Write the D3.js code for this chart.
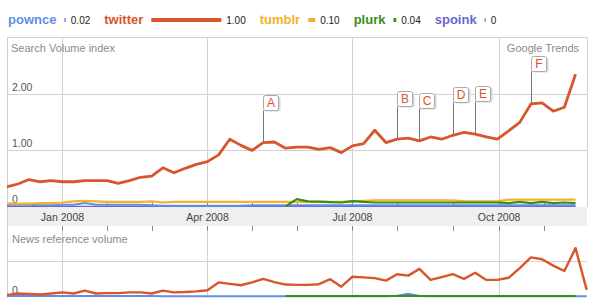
<!DOCTYPE html>
<html>
<head>
<meta charset="utf-8">
<script src="https://cdn.jsdelivr.net/npm/d3@7"></script>
<style>
  body { margin: 0; background: #fff; }
  svg text { font-family: Arial, "Liberation Sans", sans-serif; }
</style>
</head>
<body>
<svg id="chart" width="594" height="306"></svg>
<script>
// weekly data points (the news series has one extra week at the end)
const weeks = [
  "2007-11-27", "2007-12-04", "2007-12-11", "2007-12-18", "2007-12-25",
  "2008-01-01", "2008-01-08", "2008-01-15", "2008-01-22", "2008-01-29",
  "2008-02-05", "2008-02-12", "2008-02-19", "2008-02-26",
  "2008-03-04", "2008-03-11", "2008-03-18", "2008-03-25",
  "2008-04-01", "2008-04-08", "2008-04-15", "2008-04-22", "2008-04-29",
  "2008-05-06", "2008-05-13", "2008-05-20", "2008-05-27",
  "2008-06-03", "2008-06-10", "2008-06-17", "2008-06-24",
  "2008-07-01", "2008-07-08", "2008-07-15", "2008-07-22", "2008-07-29",
  "2008-08-05", "2008-08-12", "2008-08-19", "2008-08-26",
  "2008-09-02", "2008-09-09", "2008-09-16", "2008-09-23", "2008-09-30",
  "2008-10-07", "2008-10-14", "2008-10-21", "2008-10-28",
  "2008-11-04", "2008-11-11", "2008-11-18", "2008-11-25"
];

const seriesNames = ["pownce", "twitter", "tumblr", "plurk", "spoink"];
const seriesAverages = ["0.02", "1.00", "0.10", "0.04", "0"];
const swatchValues = [0.02, 1.0, 0.1, 0.04, 0];

// search volume index (52 weeks)
const twitterSearch = [
  0.35, 0.40, 0.48, 0.44, 0.46, 0.44, 0.44, 0.46, 0.46, 0.46,
  0.41, 0.46, 0.52, 0.54, 0.69, 0.60, 0.68, 0.75, 0.80, 0.92,
  1.20, 1.09, 1.00, 1.14, 1.15, 1.04, 1.06, 1.06, 1.02, 1.05,
  0.96, 1.08, 1.12, 1.36, 1.14, 1.20, 1.22, 1.17, 1.24, 1.20,
  1.27, 1.32, 1.29, 1.24, 1.20, 1.35, 1.50, 1.83, 1.85, 1.70,
  1.77, 2.36
];
const tumblrSearch = [
  0.05, 0.05, 0.05, 0.06, 0.06, 0.07, 0.09, 0.10, 0.09, 0.08,
  0.08, 0.08, 0.08, 0.09, 0.07, 0.08, 0.08, 0.08, 0.08, 0.08,
  0.08, 0.08, 0.08, 0.08, 0.08, 0.08, 0.08, 0.08, 0.08, 0.08,
  0.08, 0.09, 0.10, 0.11, 0.11, 0.11, 0.11, 0.11, 0.11, 0.11,
  0.11, 0.09, 0.09, 0.09, 0.09, 0.12, 0.12, 0.12, 0.12, 0.12,
  0.12, 0.12
];
const pownceSearch = [
  0.03, 0.03, 0.03, 0.02, 0.02, 0.03, 0.03, 0.06, 0.03, 0.03,
  0.03, 0.03, 0.03, 0.02, 0.01, 0.01, 0.01, 0.01, 0.01, 0.01,
  0.01, 0.01, 0.02, 0.02, 0.02, 0.02, 0.02, 0.02, 0.02, 0.02,
  0.02, 0.02, 0.02, 0.02, 0.02, 0.02, 0.02, 0.02, 0.02, 0.02,
  0.02, 0.02, 0.02, 0.02, 0.02, 0.02, 0.02, 0.02, 0.02, 0.02,
  0.02, 0.02
];
const plurkSearch = [
  null, null, null, null, null, null, null, null, null, null,
  null, null, null, null, null, null, null, null, null, null,
  null, null, null, null, null, 0.00, 0.13, 0.09, 0.085, 0.075,
  0.07, 0.095, 0.08, 0.07, 0.07, 0.07, 0.07, 0.07, 0.07, 0.07,
  0.07, 0.07, 0.07, 0.07, 0.07, 0.06, 0.08, 0.06, 0.08, 0.06,
  0.07, 0.06
];
const spoinkSearch = [
  0, 0, 0, 0, 0, 0, 0, 0, 0, 0, 0, 0, 0, 0, 0, 0, 0, 0, 0, 0,
  0, 0, 0, 0, 0, 0, 0, 0, 0, 0, 0, 0, 0, 0, 0, 0, 0, 0, 0, 0,
  0, 0, 0, 0, 0, 0, 0, 0, 0, 0, 0, 0
];

// news reference volume (53 weeks)
const twitterNews = [
  0.05, 0.09, 0.08, 0.06, 0.09, 0.12, 0.09, 0.17, 0.09, 0.10,
  0.10, 0.12, 0.12, 0.09, 0.17, 0.12, 0.13, 0.15, 0.18, 0.40,
  0.36, 0.32, 0.40, 0.50, 0.41, 0.34, 0.33, 0.33, 0.35, 0.49,
  0.28, 0.56, 0.54, 0.52, 0.45, 0.63, 0.59, 0.78, 0.47, 0.55,
  0.63, 0.50, 0.67, 0.47, 0.47, 0.53, 0.80, 1.10, 1.05, 0.87,
  0.72, 1.36, 0.19
];
const pownceNews = [
  0.02, 0.02, 0.02, 0.02, 0.02, 0.02, 0.02, 0.02, 0.02, 0.02,
  0.02, 0.02, 0.02, 0.02, 0.01, 0.01, 0.01, 0.01, 0.01, 0.01,
  0.01, 0.01, 0.01, 0.01, 0.01, 0.01, 0.01, 0.01, 0.01, 0.01,
  0.01, 0.01, 0.01, 0.01, 0.01, 0.03, 0.08, 0.02, 0.01, 0.01,
  0.01, 0.01, 0.01, 0.01, 0.01, 0.01, 0.01, 0.01, 0.01, 0.01,
  0.01, 0.01, 0.01
];
const plurkNews = [
  null, null, null, null, null, null, null, null, null, null,
  null, null, null, null, null, null, null, null, null, null,
  null, null, null, null, null, 0.02, 0.02, 0.02, 0.02, 0.02,
  0.02, 0.02, 0.02, 0.02, 0.02, 0.02, 0.02, 0.02, 0.02, 0.02,
  0.02, 0.02, 0.02, 0.02, 0.02, 0.02, 0.02, 0.02, 0.02, 0.02,
  0.02, 0.02, null
];

const annotationLetters = ["A", "B", "C", "D", "E", "F"];
const annotationWeeks = ["2008-05-06", "2008-07-29", "2008-08-12", "2008-09-02", "2008-09-16", "2008-10-21"];

const searchTicks = [0, 1, 2];
const searchTickLabels = ["0", "1.00", "2.00"];
const monthLabels = ["Jan 2008", "Apr 2008", "Jul 2008", "Oct 2008"];
const monthDates = ["2008-01-01", "2008-04-01", "2008-07-01", "2008-10-01"];
const minorTickDates = ["2008-01-29", "2008-02-26", "2008-04-29", "2008-05-27", "2008-07-29", "2008-09-02", "2008-10-29"];

const colors = {
  pownce: "#5f8fe6",
  twitter: "#d9552b",
  tumblr: "#f4b12a",
  plurk: "#3a8e17",
  spoink: "#6a66cc"
};

const parse = d3.timeParse("%Y-%m-%d");
const dates = weeks.map(parse);

const svg = d3.select("#chart");
const left = 7, right = 587;
const topY = 37, topBottom = 207, bandBottom = 226, newsBottom = 298;

const x = d3.scaleTime()
  .domain([parse("2007-11-27"), parse("2008-11-25")])
  .range([6.7, 586.7]);
const yTop = d3.scaleLinear().domain([0, 2]).range([206.4, 94.4]);
const yNews = d3.scaleLinear().domain([0, 1]).range([296.7, 261]);

const gridColor = "#d2d2d2";

// ---------- legend ----------
const legend = svg.append("g");
let lx = 8;
seriesNames.forEach((name, i) => {
  const t = legend.append("text")
    .attr("x", lx).attr("y", 24)
    .attr("font-size", 13).attr("font-weight", "bold")
    .attr("fill", colors[name])
    .text(name);
  lx += t.node().getComputedTextLength() + 8;
  const w = Math.max(1, swatchValues[i] * 70);
  legend.append("rect")
    .attr("x", lx).attr("y", 18)
    .attr("width", w).attr("height", 4)
    .attr("fill", colors[name]);
  lx += w + 5;
  const v = legend.append("text")
    .attr("x", lx).attr("y", 24)
    .attr("font-size", 10).attr("fill", "#222")
    .text(seriesAverages[i]);
  lx += v.node().getComputedTextLength() + 14;
});

// ---------- axis band ----------
svg.append("rect")
  .attr("x", left).attr("y", topBottom)
  .attr("width", right - left).attr("height", bandBottom - topBottom)
  .attr("fill", "#efefef");

// ---------- grid ----------
const grid = svg.append("g").attr("stroke", gridColor).attr("stroke-width", 1).attr("shape-rendering", "crispEdges");
grid.append("line").attr("x1", left).attr("x2", right).attr("y1", topY).attr("y2", topY);
grid.append("line").attr("x1", left).attr("x2", left).attr("y1", topY).attr("y2", newsBottom);
grid.append("line").attr("x1", right).attr("x2", right).attr("y1", topY).attr("y2", topBottom);
grid.selectAll(".hgrid")
  .data(searchTicks.filter((d) => d > 0))
  .join("line")
  .attr("x1", left).attr("x2", right)
  .attr("y1", (d) => Math.round(yTop(d)) + 0.5).attr("y2", (d) => Math.round(yTop(d)) + 0.5);
grid.append("line")
  .attr("x1", left).attr("x2", right)
  .attr("y1", Math.round(yNews(1)) + 0.5).attr("y2", Math.round(yNews(1)) + 0.5);
monthDates.forEach((d) => {
  const gx = Math.round(x(parse(d))) + 0.5;
  grid.append("line").attr("x1", gx).attr("x2", gx).attr("y1", topY).attr("y2", topBottom);
  grid.append("line").attr("x1", gx).attr("x2", gx).attr("y1", bandBottom).attr("y2", newsBottom);
});

// small ticks above and below the band
const ticks = svg.append("g").attr("stroke", "#8a8a8a").attr("shape-rendering", "crispEdges");
monthDates.concat(minorTickDates).forEach((d) => {
  const tx = Math.round(x(parse(d))) + 0.5;
  ticks.append("line").attr("x1", tx).attr("x2", tx).attr("y1", topBottom - 5).attr("y2", topBottom);
  ticks.append("line").attr("x1", tx).attr("x2", tx).attr("y1", bandBottom).attr("y2", bandBottom + 5);
});

// month labels
svg.append("g").selectAll("text")
  .data(monthLabels)
  .join("text")
  .attr("x", (d, i) => x(parse(monthDates[i])))
  .attr("y", 221)
  .attr("text-anchor", "middle")
  .attr("font-size", 10.5)
  .attr("fill", "#444")
  .text((d) => d);

// panel titles & y labels
svg.append("text").attr("x", 11).attr("y", 52).attr("font-size", 11).attr("fill", "#8a8a8a").text("Search Volume index");
svg.append("text").attr("x", 579).attr("y", 52).attr("text-anchor", "end").attr("font-size", 11).attr("fill", "#8a8a8a").text("Google Trends");
svg.append("text").attr("x", 12).attr("y", 243).attr("font-size", 11).attr("fill", "#8a8a8a").text("News reference volume");

svg.append("g").selectAll("text")
  .data(searchTicks)
  .join("text")
  .attr("x", 12)
  .attr("y", (d) => yTop(d) - 3)
  .attr("font-size", 10.5)
  .attr("fill", "#555")
  .text((d, i) => searchTickLabels[i]);
svg.append("text").attr("x", 12).attr("y", yNews(0) - 3).attr("font-size", 10.5).attr("fill", "#555").text("0");

// ---------- lines ----------
const defs = svg.append("defs");
defs.append("clipPath").attr("id", "clipTop")
  .append("rect").attr("x", left).attr("y", topY).attr("width", right - left).attr("height", topBottom - topY);
defs.append("clipPath").attr("id", "clipNews")
  .append("rect").attr("x", left).attr("y", bandBottom).attr("width", right - left + 1).attr("height", newsBottom - bandBottom + 2);

const lineTop = d3.line()
  .defined((d) => d.v != null)
  .x((d) => x(d.date))
  .y((d) => yTop(d.v));
const lineNews = d3.line()
  .defined((d) => d.v != null)
  .x((d) => x(d.date))
  .y((d) => yNews(d.v));

const toPoints = (values) => values.map((v, i) => ({ date: dates[i], v }));

// spoink first so the others sit on top of it
const topSeries = [
  { name: "spoink", values: spoinkSearch, width: 1.5 },
  { name: "pownce", values: pownceSearch, width: 2 },
  { name: "tumblr", values: tumblrSearch, width: 2.2 },
  { name: "plurk", values: plurkSearch, width: 2.2 },
  { name: "twitter", values: twitterSearch, width: 2.8 }
];
const newsSeries = [
  { name: "pownce", values: pownceNews, width: 2 },
  { name: "plurk", values: plurkNews, width: 2 },
  { name: "twitter", values: twitterNews, width: 2.4 }
];

const topG = svg.append("g").attr("clip-path", "url(#clipTop)");
topSeries.forEach((s) => {
  topG.append("path")
    .datum(toPoints(s.values))
    .attr("d", lineTop)
    .attr("fill", "none")
    .attr("stroke", colors[s.name])
    .attr("stroke-width", s.width)
    .attr("stroke-linejoin", "round");
});

const newsG = svg.append("g").attr("clip-path", "url(#clipNews)");
newsSeries.forEach((s) => {
  newsG.append("path")
    .datum(toPoints(s.values))
    .attr("d", lineNews)
    .attr("fill", "none")
    .attr("stroke", colors[s.name])
    .attr("stroke-width", s.width)
    .attr("stroke-linejoin", "round");
});

// ---------- annotation flags ----------
const flags = svg.append("g");
annotationLetters.forEach((letter, i) => {
  const idx = weeks.indexOf(annotationWeeks[i]);
  const px = Math.round(x(dates[idx])) + 0.5;
  const py = yTop(twitterSearch[idx]);
  const boxBottom = Math.round(py - 33) + 0.5;
  flags.append("line")
    .attr("x1", px).attr("x2", px)
    .attr("y1", py).attr("y2", boxBottom)
    .attr("stroke", "#777").attr("stroke-width", 1);
  flags.append("rect")
    .attr("x", px + 1).attr("y", boxBottom - 14)
    .attr("width", 16).attr("height", 15).attr("rx", 2)
    .attr("fill", "#d8d8d8");
  flags.append("rect")
    .attr("x", px).attr("y", boxBottom - 15)
    .attr("width", 15).attr("height", 15).attr("rx", 2)
    .attr("fill", "#fff").attr("stroke", "#aaa");
  flags.append("text")
    .attr("x", px + 7.5).attr("y", boxBottom - 3.5)
    .attr("text-anchor", "middle")
    .attr("font-size", 12)
    .attr("fill", colors.twitter)
    .text(letter);
});
</script>
</body>
</html>
